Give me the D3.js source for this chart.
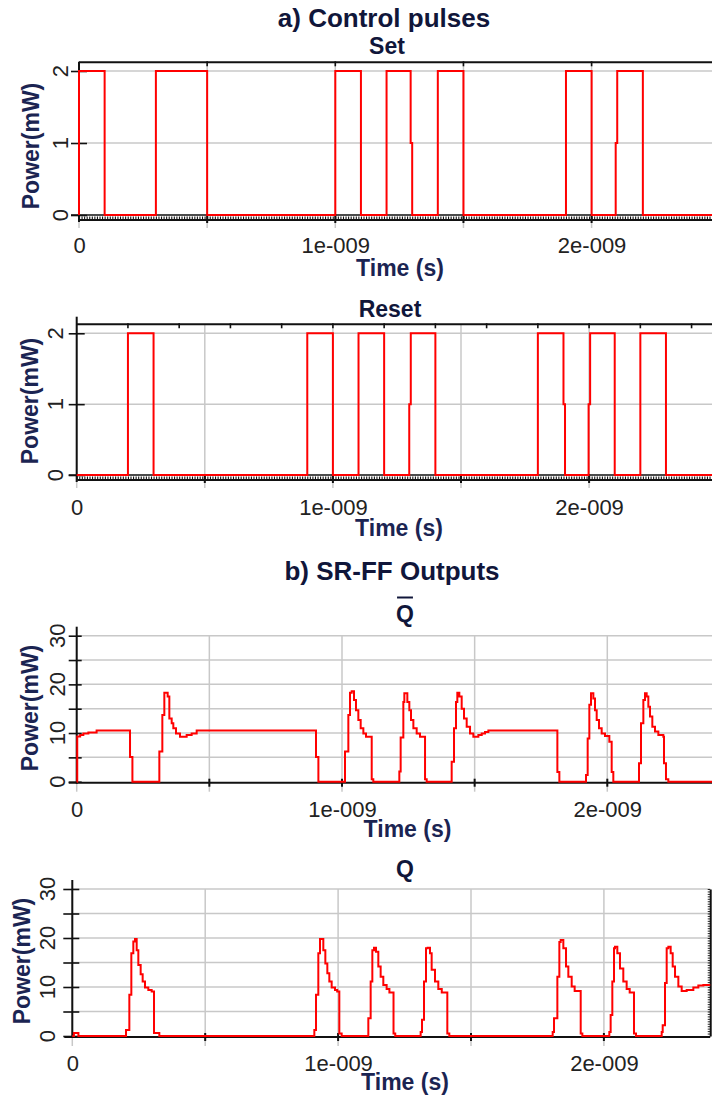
<!DOCTYPE html>
<html>
<head>
<meta charset="utf-8">
<script src="https://cdn.jsdelivr.net/npm/d3@7"></script>
<style>
  html, body { margin: 0; padding: 0; background: #fff; }
  svg { display: block; }
</style>
</head>
<body>
<svg id="chart" width="712" height="1097"></svg>
<script>
// ---- data -------------------------------------------------------------
// time in ns, power in mW; each level is held until the next sample
const timeTicks = [0, 1, 2];
const timeTickLabels = ["0", "1e-009", "2e-009"];
const pulsePowerTicks = [0, 1, 2];
const outputPowerTicks = [0, 10, 20, 30];

const setWave = [
  [0, 0], [0, 2], [0.1, 0], [0.3, 2], [0.5, 0], [1.0, 2], [1.1, 0],
  [1.2, 2], [1.294, 1], [1.3, 0], [1.4, 2], [1.5, 0], [1.9, 2], [2.0, 0],
  [2.094, 1], [2.1, 2], [2.2, 0], [2.5, 0]
];

const resetWave = [
  [0, 0], [0.2, 2], [0.3, 0], [0.9, 2], [1.0, 0], [1.1, 2], [1.2, 0],
  [1.298, 1], [1.304, 2], [1.4, 0], [1.8, 2], [1.9, 1], [1.906, 0],
  [1.998, 1], [2.004, 2], [2.1, 0], [2.2, 2], [2.3, 0], [2.5, 0]
];

const qBarWave = [
  [0, 0], [0.002, 9.3], [0.013, 9.6], [0.025, 9.9], [0.044, 10.1], [0.075, 10.5],
  [0.201, 5.1], [0.21, 0],
  [0.3115, 6.2], [0.3228, 13.7], [0.3303, 18.3], [0.3429, 17.5], [0.3492, 13.0],
  [0.358, 12.0], [0.3642, 11.0], [0.3743, 9.9], [0.3894, 9.25], [0.4145, 9.6],
  [0.4333, 9.9], [0.4522, 10.5],
  [0.902, 5.1], [0.911, 0],
  [1.0113, 6.2], [1.0239, 13.7], [1.0302, 18.3], [1.0365, 18.6], [1.0452, 16.8],
  [1.0527, 14.7], [1.0616, 12.7], [1.0704, 11.0], [1.0805, 9.9], [1.0905, 9.25],
  [1.112, 0.5], [1.118, 0],
  [1.2161, 2.1], [1.2211, 9.1], [1.2312, 16.4], [1.235, 18.2], [1.2463, 16.4],
  [1.2538, 14.7], [1.2601, 12.7], [1.269, 11.0], [1.2815, 9.9], [1.2941, 9.25],
  [1.313, 0.5], [1.3192, 0],
  [1.4134, 4.1], [1.4222, 11.0], [1.4297, 16.4], [1.4347, 18.3], [1.4423, 17.5],
  [1.4511, 15.0], [1.4599, 13.0], [1.47, 11.3], [1.4826, 9.9], [1.4951, 9.25],
  [1.514, 9.6], [1.5266, 9.9], [1.5391, 10.2], [1.5517, 10.5],
  [1.8118, 2.0], [1.8193, 0],
  [1.9198, 1.4], [1.926, 8.9], [1.9323, 15.8], [1.9386, 18.2], [1.9474, 17.1],
  [1.9537, 14.7], [1.96, 12.7], [1.9687, 11.0], [1.9788, 9.9], [1.9913, 9.4],
  [2.0077, 8.2], [2.0165, 2.0], [2.0227, 0],
  [2.1195, 3.8], [2.127, 12.0], [2.1359, 16.8], [2.1421, 18.2], [2.1484, 17.5],
  [2.1547, 15.4], [2.161, 13.4], [2.1697, 11.3], [2.1798, 10.3], [2.1924, 9.6],
  [2.2112, 9.25], [2.2137, 3.8], [2.2212, 0.5], [2.23, 0],
  [2.4, 0]
];

const qWave = [
  [0, 0], [0.006, 0.6], [0.023, 0],
  [0.2021, 1.2], [0.2146, 8.4], [0.2221, 16.9], [0.2296, 19.3], [0.2359, 19.8],
  [0.2422, 17.5], [0.2484, 14.5], [0.2572, 12.6], [0.2647, 11.1], [0.2735, 9.9],
  [0.286, 9.4], [0.2986, 9.1], [0.3074, 0.6], [0.3274, 0],
  [0.9106, 1.2], [0.9169, 8.4], [0.9256, 16.9], [0.9319, 19.8], [0.9444, 17.5],
  [0.952, 14.8], [0.9595, 12.8], [0.967, 11.1], [0.9758, 9.9], [0.9883, 9.4],
  [0.9965, 9.1], [1.0046, 0.5], [1.0134, 0],
  [1.1137, 3.6], [1.1225, 11.1], [1.1288, 17.5], [1.135, 18.0], [1.1425, 17.2],
  [1.1513, 14.2], [1.1601, 12.1], [1.1701, 10.4], [1.1826, 9.6], [1.193, 8.9],
  [1.2085, 0.5], [1.215, 0],
  [1.3106, 0.8], [1.3157, 3.3], [1.3232, 11.1], [1.3307, 17.9], [1.3369, 18.0],
  [1.3457, 16.9], [1.352, 13.5], [1.3645, 11.1], [1.377, 9.6], [1.39, 8.9],
  [1.4109, 0.5], [1.4184, 0],
  [1.8073, 0.8], [1.8123, 3.6], [1.8249, 12.1], [1.8324, 19.2], [1.8374, 19.6],
  [1.8474, 17.9], [1.8575, 14.2], [1.8662, 12.1], [1.8788, 10.1], [1.89, 9.2],
  [1.9127, 0.5], [1.9189, 0],
  [2.0204, 0.8], [2.0254, 4.3], [2.0317, 11.1], [2.038, 17.9], [2.0417, 18.2],
  [2.0505, 16.9], [2.0605, 13.8], [2.073, 11.1], [2.0856, 9.6], [2.097, 8.9],
  [2.1132, 0.5], [2.1207, 0],
  [2.2174, 0.8], [2.2212, 2.2], [2.2299, 10.8], [2.2362, 17.9], [2.2425, 18.2],
  [2.2512, 16.9], [2.2588, 14.2], [2.2676, 12.1], [2.2801, 10.1], [2.2926, 9.2],
  [2.3114, 9.4], [2.3365, 9.9], [2.3553, 10.3], [2.3741, 10.4], [2.4, 10.4]
];

// ---- styling ------------------------------------------------------------
const FONT = "'Liberation Sans', Arial, Helvetica, sans-serif";
const GRID = "#c8c8c8";
const INK = "#111111";
const WAVE = "#ff0000";
const TITLE_INK = "#10163a";
const LABEL_INK = "#1b2452";
const TICK_INK = "#222222";

const svg = d3.select("#chart");
svg.append("rect").attr("width", 712).attr("height", 1097).attr("fill", "#fff");

function label(g, x, y, str, size, weight, fill, rotate) {
  const t = g.append("text")
    .attr("font-family", FONT)
    .attr("font-size", size)
    .attr("font-weight", weight)
    .attr("fill", fill)
    .attr("text-anchor", "middle")
    .text(str);
  if (rotate) t.attr("transform", `translate(${x},${y}) rotate(-90)`);
  else t.attr("x", x).attr("y", y);
  return t;
}

// headings
label(svg, 384, 27, "a) Control pulses", 26, "bold", TITLE_INK);
label(svg, 392, 580, "b) SR-FF Outputs", 26, "bold", TITLE_INK);

// ---- shared pieces --------------------------------------------------------
function timeAxis(g, x, o) {
  const ax = d3.axisBottom(x)
    .tickValues(timeTicks)
    .tickFormat((d, i) => timeTickLabels[i])
    .tickSize(0);
  const ag = g.append("g").attr("transform", `translate(0,${o.tickLabelY})`).call(ax);
  ag.select(".domain").remove();
  ag.selectAll("text")
    .attr("y", 0).attr("dy", 0)
    .attr("font-family", FONT).attr("font-size", 22).attr("fill", TICK_INK);
  label(g, o.timeX, o.timeY, "Time (s)", 23, "bold", LABEL_INK);
}

// left power axis: crossing tick marks plus labels written sideways
function powerAxis(g, y, o, values, tickValues) {
  const ax = d3.axisLeft(y).tickValues(tickValues).tickSize(o.tickOut).tickFormat("");
  const ag = g.append("g").attr("transform", `translate(${o.x0},0)`).call(ax);
  ag.select(".domain").remove();
  ag.selectAll(".tick line").attr("stroke", INK).attr("stroke-width", 1.6).attr("x2", -o.tickOut).attr("x1", o.tickIn);

  g.append("g").selectAll("text").data(values).join("text")
    .attr("transform", d => `translate(${o.x0 - o.labelOff},${y(d)}) rotate(-90)`)
    .attr("text-anchor", "middle")
    .attr("font-family", FONT).attr("font-size", 22).attr("fill", TICK_INK)
    .text(d => d);

  label(g, o.powerX, o.powerY, "Power(mW)", 23, "bold", LABEL_INK, true);
}

function wavePath(g, x, y, wave) {
  const line = d3.line().x(d => x(d[0])).y(d => y(d[1])).curve(d3.curveStepAfter);
  g.append("path").datum(wave)
    .attr("d", line)
    .attr("fill", "none")
    .attr("stroke", WAVE)
    .attr("stroke-width", 2)
    .attr("stroke-linejoin", "miter");
}

// ---- control pulse panels (Set / Reset) ----------------------------------
function controlPanel(o) {
  const g = svg.append("g");
  const x = d3.scaleLinear().domain([0, 2.5]).range([o.x0, o.x0 + 2.5 * o.ppn]);
  const y = d3.scaleLinear().domain([0, 2]).range([o.y0, o.y2]);
  const xEnd = x.range()[1];

  // grid
  g.selectAll(".gv").data(x.ticks(5)).join("line")
    .attr("x1", d => x(d)).attr("x2", d => x(d))
    .attr("y1", o.border).attr("y2", o.y0 + 13)
    .attr("stroke", GRID).attr("stroke-width", 1.5);
  g.selectAll(".gh").data(pulsePowerTicks.filter(d => d > 0)).join("line")
    .attr("x1", o.x0).attr("x2", xEnd)
    .attr("y1", d => y(d)).attr("y2", d => y(d))
    .attr("stroke", GRID).attr("stroke-width", 1.5);

  // top frame with its small ticks
  g.append("line").attr("x1", o.x0).attr("x2", xEnd)
    .attr("y1", o.border).attr("y2", o.border)
    .attr("stroke", INK).attr("stroke-width", 2);
  g.selectAll(".tt").data(d3.range(o.topStep, 2.5, o.topStep)).join("line")
    .attr("x1", d => x(d)).attr("x2", d => x(d))
    .attr("y1", o.border - 1).attr("y2", o.border + 4)
    .attr("stroke", INK).attr("stroke-width", 1.6);

  // zero line and ruler underneath
  g.append("line").attr("x1", o.x0 - 8).attr("x2", xEnd)
    .attr("y1", o.y0).attr("y2", o.y0)
    .attr("stroke", INK).attr("stroke-width", 1.6);
  const minor = d3.axisBottom(x).tickValues(d3.range(0, 2.5001, 0.01)).tickSizeInner(-3).tickSizeOuter(0).tickFormat("");
  const mg = g.append("g").attr("transform", `translate(0,${o.y0 + 4.5})`).call(minor);
  mg.select(".domain").attr("stroke", INK).attr("stroke-width", 1.8);
  mg.selectAll(".tick line").attr("stroke", INK).attr("stroke-width", 1.1);
  g.selectAll(".mt").data(x.ticks(5).filter(d => d > 0)).join("line")
    .attr("x1", d => x(d)).attr("x2", d => x(d))
    .attr("y1", o.y0 - 1).attr("y2", o.y0 + 8)
    .attr("stroke", INK).attr("stroke-width", 2);

  // left axis
  g.append("line").attr("x1", o.x0).attr("x2", o.x0)
    .attr("y1", o.axisTop).attr("y2", o.y0 + 7)
    .attr("stroke", INK).attr("stroke-width", 2);
  powerAxis(g, y, o, pulsePowerTicks, pulsePowerTicks);

  wavePath(g, x, y, o.wave);

  timeAxis(g, x, o);
  label(g, o.subX, o.subY, o.name, 23, "bold", TITLE_INK);
}

controlPanel({
  name: "Set", wave: setWave,
  x0: 79, ppn: 256.3, y0: 215, y2: 71, border: 62.3, axisTop: 61.7, topStep: 0.5,
  tickOut: 8, tickIn: 8, labelOff: 11,
  powerX: 38.5, powerY: 146, timeX: 400, timeY: 275.5, tickLabelY: 252.5,
  subX: 387, subY: 54
});

controlPanel({
  name: "Reset", wave: resetWave,
  x0: 76.7, ppn: 256.2, y0: 475, y2: 333.3, border: 324.3, axisTop: 316.7, topStep: 0.2,
  tickOut: 8, tickIn: 8, labelOff: 13.4,
  powerX: 38, powerY: 401, timeX: 399, timeY: 535.5, tickLabelY: 515,
  subX: 390, subY: 316.5
});

// ---- SR flip-flop output panels (Q-bar / Q) -------------------------------
function outputPanel(o) {
  const g = svg.append("g");
  const x = d3.scaleLinear().domain([0, 2.4]).range([o.x0, o.x0 + 2.4 * o.ppn]);
  const y = d3.scaleLinear().domain([0, 30]).range([o.y0, o.y30]);
  const xEnd = x.range()[1];

  // grid
  g.selectAll(".gv").data(x.ticks(5)).join("line")
    .attr("x1", d => x(d)).attr("x2", d => x(d))
    .attr("y1", y(30)).attr("y2", o.y0 + 10)
    .attr("stroke", GRID).attr("stroke-width", 1.5);
  g.selectAll(".gh").data(y.ticks(6).filter(d => d > 0)).join("line")
    .attr("x1", o.x0).attr("x2", xEnd)
    .attr("y1", d => y(d)).attr("y2", d => y(d))
    .attr("stroke", GRID).attr("stroke-width", 1.5);

  // bottom axis
  g.append("line").attr("x1", o.x0 - 8).attr("x2", xEnd)
    .attr("y1", o.y0 + 1).attr("y2", o.y0 + 1)
    .attr("stroke", INK).attr("stroke-width", 2);
  g.selectAll(".bt").data(x.ticks(5).filter(d => d > 0)).join("line")
    .attr("x1", d => x(d)).attr("x2", d => x(d))
    .attr("y1", o.y0 - 3).attr("y2", o.y0 + 5)
    .attr("stroke", INK).attr("stroke-width", 2);

  // right frame with fine ticks
  if (o.rightFrame) {
    const r = d3.axisLeft(y).tickValues(d3.range(0, 30.01, 0.5)).tickSizeInner(2.5).tickSizeOuter(0).tickFormat("");
    const rg = g.append("g").attr("transform", `translate(${xEnd},0)`).call(r);
    rg.select(".domain").attr("stroke", INK).attr("stroke-width", 2);
    rg.selectAll(".tick line").attr("stroke", INK).attr("stroke-width", 0.9);
  }

  // left axis
  g.append("line").attr("x1", o.x0).attr("x2", o.x0)
    .attr("y1", o.axisTop).attr("y2", o.y0 + 2)
    .attr("stroke", INK).attr("stroke-width", 2);
  powerAxis(g, y, o, outputPowerTicks, y.ticks(6));

  wavePath(g, x, y, o.wave);

  timeAxis(g, x, o);
  const sub = label(g, o.subX, o.subY, "Q", 23, "bold", TITLE_INK);
  if (o.bar) {
    const w = sub.node().getComputedTextLength();
    g.append("line")
      .attr("x1", o.subX - w / 2 + 1).attr("x2", o.subX + w / 2 - 1)
      .attr("y1", o.subY - 24).attr("y2", o.subY - 24)
      .attr("stroke", TITLE_INK).attr("stroke-width", 2);
  }
}

outputPanel({
  wave: qBarWave, bar: true,
  x0: 76.7, ppn: 265.3, y0: 781.7, y30: 635.7, axisTop: 626.7,
  tickOut: 8, tickIn: 5, labelOff: 11.7,
  powerX: 38, powerY: 708, timeX: 407.5, timeY: 837, tickLabelY: 816.5,
  subX: 405, subY: 621.5
});

outputPanel({
  wave: qWave, bar: false, rightFrame: true,
  x0: 72.3, ppn: 265.8, y0: 1036, y30: 889, axisTop: 880,
  tickOut: 9, tickIn: 7, labelOff: 17.3,
  powerX: 30, powerY: 961, timeX: 405, timeY: 1090, tickLabelY: 1071,
  subX: 405, subY: 876.5
});
</script>
</body>
</html>
